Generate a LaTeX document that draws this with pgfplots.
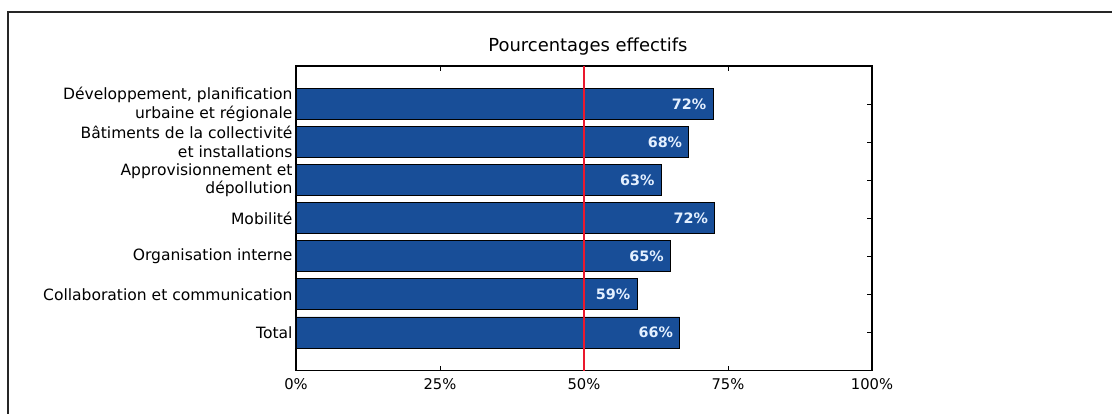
\documentclass[border=0pt]{standalone}
\usepackage{fontspec}
\setmainfont{DejaVu Sans}
\usepackage{pgfplots}
\pgfplotsset{compat=1.18}
\definecolor{barblue}{RGB}{24,78,152}
\definecolor{lbl}{RGB}{228,240,255}
\definecolor{redline}{RGB}{235,25,45}

\pgfplotstableread{
x y lab
72.4 6 72
68.2 5 68
63.4 4 63
72.7 3 72
65.0 2 65
59.2 1 59
66.6 0 66
}\datatable

\begin{document}
\begin{tikzpicture}
\begin{axis}[
  at={(0,0)}, anchor=south west,
  scale only axis, width=576bp, height=304.5bp,
  xmin=0, xmax=100, ymin=-1, ymax=7,
  axis line style={line width=1.2bp, black},
  xtick={0,25,50,75,100},
  xticklabels={0\%,25\%,50\%,75\%,100\%},
  ytick={0,1,2,3,4,5,6},
  yticklabels={Total, Collaboration et communication, Organisation interne, Mobilité, {Approvisionnement et\\dépollution}, {Bâtiments de la collectivité\\et installations}, {Développement, planification\\urbaine et régionale}},
  yticklabel style={align=right, font=\fontsize{15.6}{18.8}\selectfont},
  xticklabel style={font=\fontsize{14.8}{17}\selectfont, yshift=-5bp},
  tick align=inside, major tick length=5bp,
  tick style={black, line width=0.8bp},
  title={Pourcentages effectifs},
  title style={font=\fontsize{18}{21}\selectfont, at={(0.5,1)}, anchor=base, yshift=9bp, xshift=4bp},
  clip=false,
]
\addplot[xbar, bar width=31bp, bar shift=0pt, fill=barblue, draw=black, line width=0.8bp,
  nodes near coords={\pgfplotspointmeta\%},
  point meta=explicit symbolic,
  nodes near coords style={anchor=east, xshift=-3bp, text=lbl, font=\fontsize{14.4}{16}\selectfont\bfseries}]
  table[x=x, y=y, meta=lab] {\datatable};
\addplot[redline, line width=1.5bp, no marks] coordinates {(50,-1) (50,7)};
\end{axis}
\path[use as bounding box] ([xshift=-296bp,yshift=-43.5bp]current axis.south west) rectangle ++(1112bp,414bp);
\draw[line width=1.5bp, black!85] ([xshift=-288bp,yshift=-43.5bp]current axis.south west) -- ++(0,402bp) -- ++(1112bp,0);
\end{tikzpicture}
\end{document}
